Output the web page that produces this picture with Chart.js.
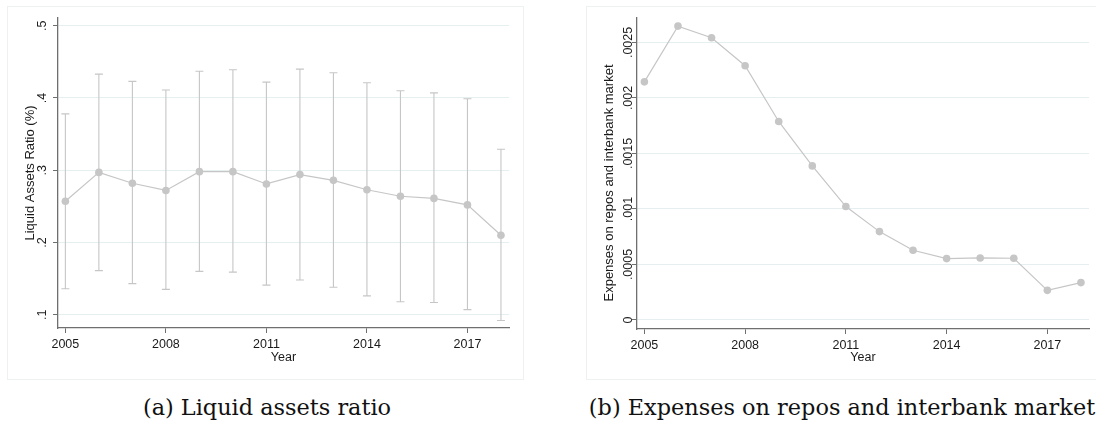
<!DOCTYPE html>
<html>
<head>
<meta charset="utf-8">
<script src="https://cdn.jsdelivr.net/npm/chart.js@4/dist/chart.umd.min.js"></script>
<style>
  html, body { margin:0; padding:0; background:#fff; }
  body { width:1096px; height:427px; position:relative; overflow:hidden; }
  .panel { position:absolute; border:1px solid #edf1f1; box-sizing:border-box; }
  canvas { position:absolute; }
  .cap { position:absolute; font-family:"DejaVu Serif", serif; font-size:22.4px; color:#111; white-space:nowrap; transform:translateX(-50%); }
</style>
</head>
<body>
<div class="panel" style="left:7px;top:6px;width:517px;height:374px;"></div>
<div class="panel" style="left:586px;top:6px;width:520px;height:374px;"></div>
<canvas id="c1" width="548" height="382" style="left:0;top:0;"></canvas>
<canvas id="c2" width="516" height="382" style="left:580px;top:0;"></canvas>
<div class="cap" style="left:267px;top:394px;">(a) Liquid assets ratio</div>
<div class="cap" style="left:842px;top:394px;">(b) Expenses on repos and interbank market</div>
<script>
// ---- data ----
const years = [2005,2006,2007,2008,2009,2010,2011,2012,2013,2014,2015,2016,2017,2018];
const liquidMean  = [0.257,0.297,0.282,0.272,0.298,0.298,0.281,0.294,0.286,0.273,0.264,0.261,0.252,0.210];
const liquidUpper = [0.378,0.433,0.423,0.411,0.437,0.439,0.422,0.440,0.435,0.421,0.410,0.407,0.399,0.329];
const liquidLower = [0.136,0.161,0.143,0.135,0.160,0.159,0.141,0.148,0.138,0.126,0.118,0.117,0.107,0.092];
const repoExpenses = [0.002145,0.002647,0.002542,0.002290,0.001788,0.001388,0.001022,0.000796,0.000628,0.000553,0.000559,0.000556,0.000267,0.000337];
const xTicks = [2005,2008,2011,2014,2017];
const liquidTicks = [0.1,0.2,0.3,0.4,0.5];
const liquidTickLabels = ['.1','.2','.3','.4','.5'];
const repoTicks = [0,0.0005,0.001,0.0015,0.002,0.0025];
const repoTickLabels = ['0','.0005','.001','.0015','.002','.0025'];
const xTitle = 'Year';
const liquidTitle = 'Liquid Assets Ratio (%)';
const repoTitle = 'Expenses on repos and interbank market';

const AXIS = '#6f6f6f', GRID = '#e6eff0', MARK = '#c6c6c6', TXT = '#1a1a1a';
const FONT = '"Liberation Sans", Arial, sans-serif';

const stataPlugin = {
  id: 'stata',
  beforeDatasetsDraw(chart, args, o) {
    if (!o.lower) return;
    const ctx = chart.ctx, xs = chart.scales.x, ys = chart.scales.y;
    ctx.save();
    ctx.strokeStyle = MARK; ctx.lineWidth = 1.1;
    years.forEach((yr, i) => {
      const px = xs.getPixelForValue(yr);
      const lo = ys.getPixelForValue(o.lower[i]);
      const hi = ys.getPixelForValue(o.upper[i]);
      ctx.beginPath();
      ctx.moveTo(px, lo); ctx.lineTo(px, hi);
      ctx.moveTo(px - 4, lo); ctx.lineTo(px + 4, lo);
      ctx.moveTo(px - 4, hi); ctx.lineTo(px + 4, hi);
      ctx.stroke();
    });
    ctx.restore();
  },
  afterDraw(chart, args, o) {
    const ctx = chart.ctx, ys = chart.scales.y;
    ctx.save();
    ctx.fillStyle = TXT;
    ctx.textAlign = 'center'; ctx.textBaseline = 'middle';
    ctx.font = '12.5px ' + FONT;
    o.ticks.forEach((v, i) => {
      const py = ys.getPixelForValue(v);
      ctx.save(); ctx.translate(o.labelX, py); ctx.rotate(-Math.PI/2);
      ctx.fillText(o.tickLabels[i], 0, 0); ctx.restore();
    });
    ctx.font = '13px ' + FONT;
    ctx.save(); ctx.translate(o.titleX, o.titleY); ctx.rotate(-Math.PI/2);
    ctx.fillText(o.title, 0, 0); ctx.restore();
    ctx.restore();
  }
};

function makeChart(id, values, yMin, yMax, yTicks, yLabels, title, pad, yW, xH, extra) {
  const pts = years.map((yr, i) => ({x: yr, y: values[i]}));
  return new Chart(document.getElementById(id), {
    type: 'line',
    data: { datasets: [{
      data: pts, borderColor: MARK, backgroundColor: MARK, borderWidth: 1.2,
      pointRadius: 3.8, pointBackgroundColor: MARK, pointBorderWidth: 0, tension: 0
    }]},
    options: {
      responsive: false, animation: false, devicePixelRatio: 1,
      layout: { padding: pad },
      plugins: {
        legend: { display: false }, tooltip: { enabled: false },
        stata: Object.assign({ ticks: yTicks, tickLabels: yLabels, title: title }, extra)
      },
      scales: {
        x: {
          type: 'linear', min: 2004.78, max: 2018.24,
          afterBuildTicks: s => { s.ticks = xTicks.map(v => ({value: v})); },
          afterFit: s => { s.height = xH; },
          ticks: { color: TXT, font: { family: FONT, size: 12.5, lineHeight: 1.2 }, padding: 4, maxRotation: 0,
                   callback: v => String(v) },
          grid: { drawOnChartArea: false, drawTicks: true, tickLength: 5, tickColor: AXIS, tickWidth: 1 },
          border: { color: AXIS, width: 1.3 },
          title: { display: true, text: xTitle, color: TXT, font: { family: FONT, size: 12.5, lineHeight: 1.2 },
                   padding: { top: 0, bottom: 17 } }
        },
        y: {
          type: 'linear', min: yMin, max: yMax,
          afterBuildTicks: s => { s.ticks = yTicks.map(v => ({value: v})); },
          afterFit: s => { s.width = yW; },
          ticks: { display: false },
          grid: { color: GRID, lineWidth: 1, drawTicks: true, tickLength: 5, tickColor: AXIS, tickWidth: 1 },
          border: { color: AXIS, width: 1.3 }
        }
      }
    },
    plugins: [stataPlugin]
  });
}

makeChart('c1', liquidMean, 0.0816, 0.5107, liquidTicks, liquidTickLabels, liquidTitle,
  { left: 0, top: 18, right: 39, bottom: 0 }, 58, 54,
  { lower: liquidLower, upper: liquidUpper, labelX: 42.5, titleX: 30, titleY: 173 });

makeChart('c2', repoExpenses, -0.0000811, 0.00272, repoTicks, repoTickLabels, repoTitle,
  { left: 0, top: 18, right: 7, bottom: 0 }, 57, 53,
  { labelX: 48.7, titleX: 29.5, titleY: 183 });
</script>
</body>
</html>
